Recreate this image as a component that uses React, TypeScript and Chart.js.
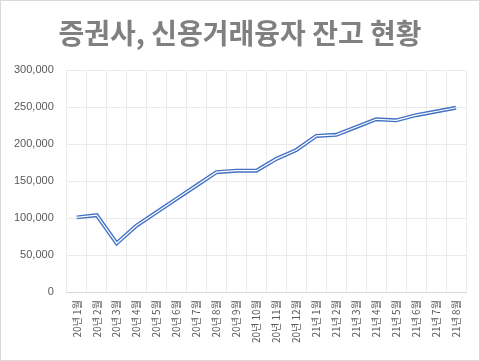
import React, { useEffect, useRef } from "react";
import { Chart, registerables } from "chart.js";

Chart.register(...registerables);

const titleText = "증권사, 신용거래융자 잔고 현황";
const categories = [
  "20년 1월", "20년 2월", "20년 3월", "20년 4월", "20년 5월", "20년 6월", "20년 7월",
  "20년 8월", "20년 9월", "20년 10월", "20년 11월", "20년 12월", "21년 1월", "21년 2월",
  "21년 3월", "21년 4월", "21년 5월", "21년 6월", "21년 7월", "21년 8월",
];
const balances = [
  101000, 104000, 66000, 90000, 108000, 126000, 144000, 162000, 164000, 164000,
  180000, 192000, 211000, 212500, 223000, 233500, 232000, 239000, 244000, 249000,
];
const yTicks = { min: 0, max: 300000, step: 50000 };

const FONT = '"Noto Sans CJK KR", "Noto Sans", sans-serif';

const centeredTitle = {
  id: "centeredTitle",
  afterDraw(chart: any) {
    const ctx = chart.ctx;
    ctx.save();
    ctx.font = `bold 28px ${FONT}`;
    ctx.fillStyle = "#808080";
    ctx.textAlign = "center";
    ctx.textBaseline = "middle";
    ctx.fillText(titleText, chart.width / 2, 32);
    ctx.restore();
  },
};

export default function App() {
  const ref = useRef<HTMLCanvasElement | null>(null);
  useEffect(() => {
    if (!ref.current) return;
    const chart = new Chart(ref.current, {
      type: "line",
      data: {
        labels: categories,
        datasets: [
          {
            data: balances,
            borderColor: "#ffffff",
            borderWidth: 1.2,
            pointRadius: 0,
            tension: 0,
            order: 0,
          },
          {
            data: balances,
            borderColor: "#4472c4",
            borderWidth: 4,
            pointRadius: 0,
            tension: 0,
            order: 1,
          },
        ],
      },
      plugins: [centeredTitle],
      options: {
        animation: false,
        responsive: false,
        maintainAspectRatio: false,
        layout: { padding: { left: 0, right: 13, top: 69, bottom: 9 } },
        plugins: {
          legend: { display: false },
          tooltip: { enabled: false },
          title: { display: false },
        },
        scales: {
          x: {
            offset: true,
            grid: { offset: true, color: "#ebebeb", drawTicks: false },
            border: { color: "#d9d9d9" },
            ticks: {
              color: "#595959",
              font: { family: FONT, size: 10 },
              maxRotation: 90,
              minRotation: 90,
              autoSkip: false,
              padding: 8,
            },
          },
          y: {
            min: yTicks.min,
            max: yTicks.max,
            grid: { color: "#ebebeb", drawTicks: false },
            border: { display: false },
            ticks: {
              stepSize: yTicks.step,
              color: "#595959",
              font: { family: '"Liberation Sans", Arial, sans-serif', size: 11 },
              padding: 13,
              callback: (v: any) => Number(v).toLocaleString("en-US"),
            },
          },
        },
      },
    });
    return () => chart.destroy();
  }, []);
  return (
    <div
      style={{
        position: "absolute",
        left: 0,
        top: 0,
        width: 480,
        height: 361,
        boxSizing: "border-box",
        border: "1px solid #d9d9d9",
        background: "#fff",
      }}
    >
      <canvas ref={ref} width={478} height={359} style={{ display: "block" }} />
    </div>
  );
}
